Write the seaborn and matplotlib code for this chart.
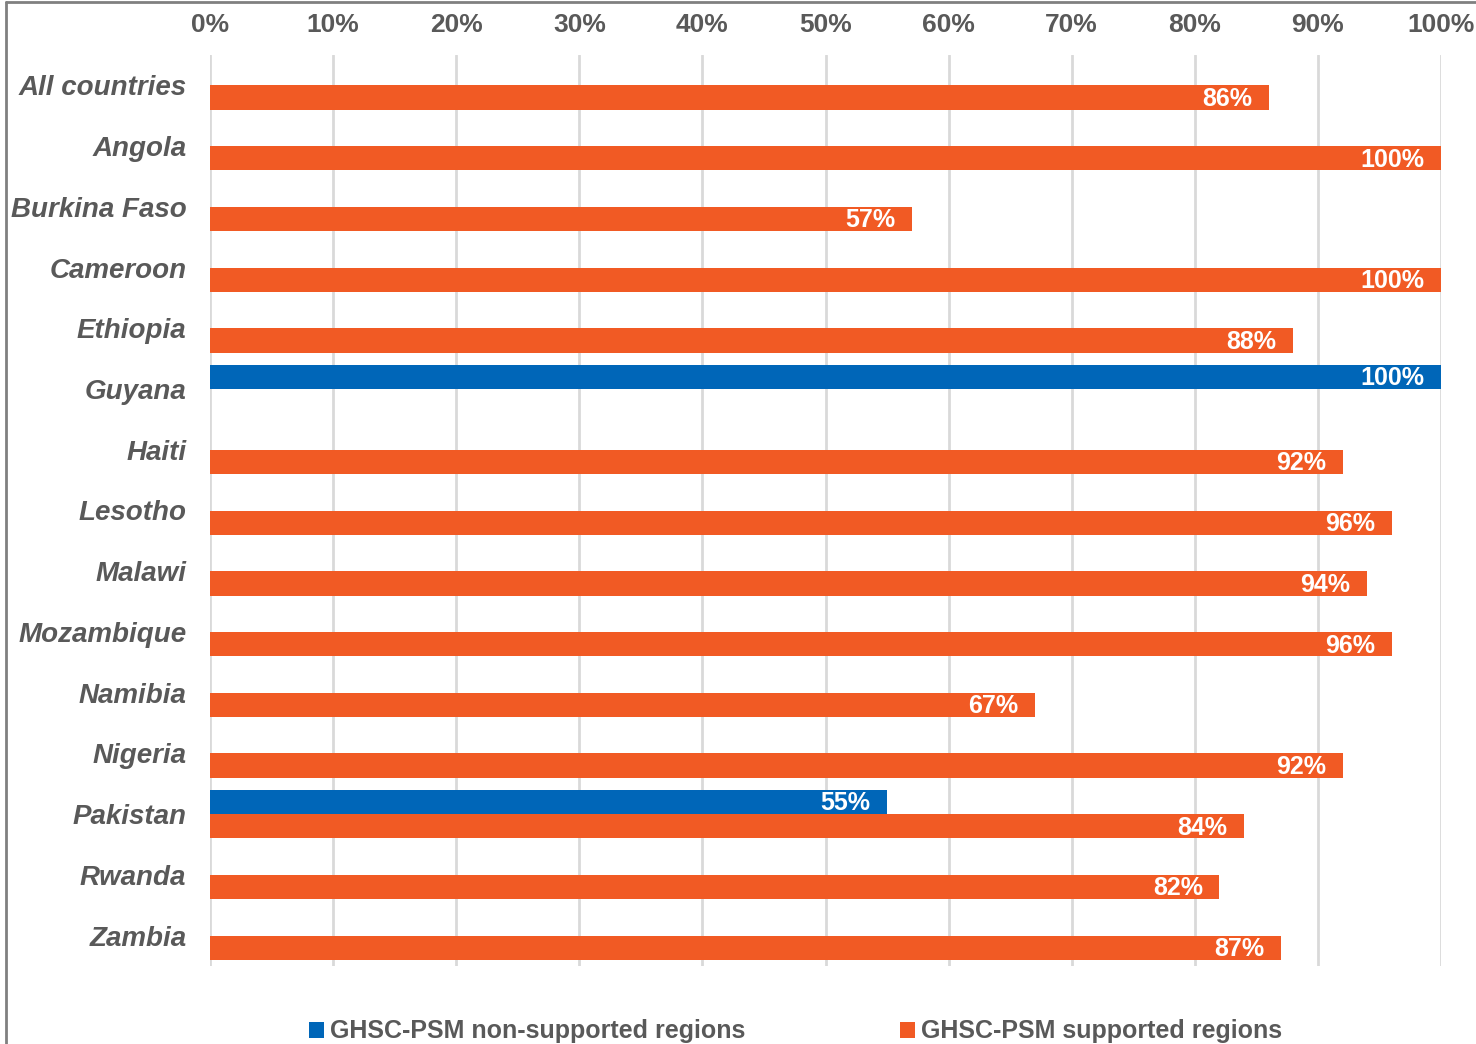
import numpy as np
import pandas as pd
import matplotlib
matplotlib.use("Agg")
import matplotlib.pyplot as plt
from matplotlib.lines import Line2D
from matplotlib.patches import Patch
import seaborn as sns

## data

countries = ["All countries", "Angola", "Burkina Faso", "Cameroon", "Ethiopia", "Guyana",
             "Haiti", "Lesotho", "Malawi", "Mozambique", "Namibia", "Nigeria",
             "Pakistan", "Rwanda", "Zambia"]
non_supported = [np.nan, np.nan, np.nan, np.nan, np.nan, 100,
                 np.nan, np.nan, np.nan, np.nan, np.nan, np.nan,
                 55, np.nan, np.nan]
supported = [86, 100, 57, 100, 88, np.nan,
             92, 96, 94, 96, 67, 92,
             84, 82, 87]
series_names = ["GHSC-PSM non-supported regions", "GHSC-PSM supported regions"]
series_colors = ["#0066B8", "#F15A24"]
tick_vals = [0, 10, 20, 30, 40, 50, 60, 70, 80, 90, 100]

df = pd.DataFrame({
    "country": countries * 2,
    "series": [series_names[0]] * len(countries) + [series_names[1]] * len(countries),
    "value": non_supported + supported,
})

## plot

sns.set_style("white")
plt.rcParams["font.family"] = ["Liberation Sans", "DejaVu Sans"]
gray = "#595959"

fig = plt.figure(figsize=(14.76, 10.44), dpi=100)
ax = fig.add_axes([210 / 1476, 1 - 966 / 1044, 1231 / 1476, 911 / 1044])

sns.barplot(data=df, x="value", y="country", hue="series", order=countries,
            hue_order=series_names, palette=series_colors, orient="h",
            width=0.8, saturation=1, ax=ax, legend=False, linewidth=0)

ax.set_xlim(0, 100)
ax.set_ylim(len(countries) - 0.5, -0.5)
ax.set_xticks(tick_vals)
ax.set_xticklabels([f"{v}%" for v in tick_vals], fontsize=19, fontweight="bold", color=gray)
ax.xaxis.tick_top()
ax.tick_params(axis="x", length=0, pad=13)
ax.tick_params(axis="y", length=0, pad=17)
for lab in ax.get_yticklabels():
    lab.set_fontsize(20)
    lab.set_fontweight("bold")
    lab.set_fontstyle("italic")
    lab.set_color(gray)
ax.set_xlabel("")
ax.set_ylabel("")
ax.grid(axis="x", color="#D9D9D9", linewidth=2)
ax.set_axisbelow(True)
for s in ax.spines.values():
    s.set_visible(False)

# value labels inside the bar ends
for bar in ax.patches:
    w = bar.get_width()
    if np.isnan(w) or w == 0:
        continue
    ax.annotate(f"{w:.0f}%", xy=(w, bar.get_y() + bar.get_height() / 2),
                xytext=(-12, -1), textcoords="offset points", ha="right", va="center",
                color="white", fontsize=18, fontweight="bold")

# legend
handles = [Patch(facecolor=c, edgecolor="none") for c in series_colors]
fig.legend(handles, series_names, loc="lower center", bbox_to_anchor=(0.539, -0.021), ncol=2,
           frameon=False, handlelength=0.6, handleheight=0.6, handletextpad=0.25,
           columnspacing=6.2, prop={"size": 18, "weight": "bold"}, labelcolor=gray)

# frame of the chart area
fig.add_artist(Line2D([6 / 1476, 1], [1 - 2 / 1044, 1 - 2 / 1044], color="#808080", linewidth=2))
fig.add_artist(Line2D([6 / 1476, 6 / 1476], [0, 1 - 2 / 1044], color="#808080", linewidth=2))

fig.savefig("out.png", dpi=100)
